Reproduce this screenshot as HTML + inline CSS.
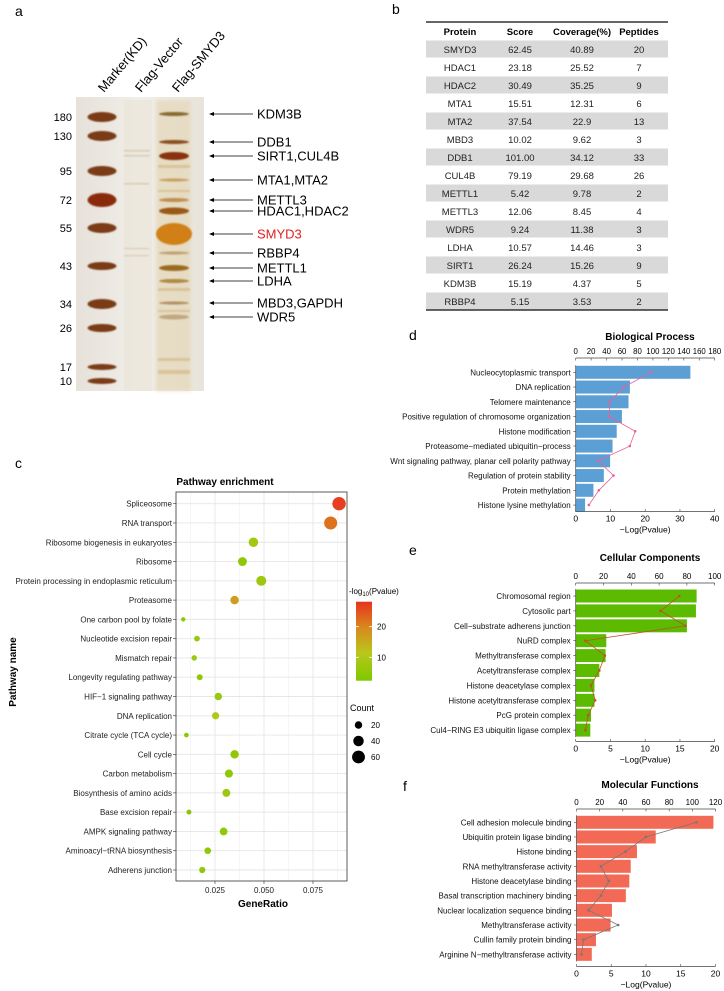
<!DOCTYPE html>
<html><head><meta charset="utf-8">
<style>
html,body{margin:0;padding:0;background:#fff;}
svg{display:block;font-family:"Liberation Sans",Arial,sans-serif;}
</style></head>
<body>
<svg id="fig" width="724" height="991" viewBox="0 0 724 991" xmlns="http://www.w3.org/2000/svg">
<defs>
<filter id="bl" x="-20%" y="-50%" width="140%" height="200%"><feGaussianBlur stdDeviation="1.6"/></filter>
<filter id="bl2" x="-20%" y="-50%" width="140%" height="200%"><feGaussianBlur stdDeviation="0.8"/></filter>
<linearGradient id="gelbg" x1="0" x2="1"><stop offset="0" stop-color="#e6e2da"/><stop offset="0.5" stop-color="#f1eee8"/><stop offset="1" stop-color="#e8e4dc"/></linearGradient>
<linearGradient id="cbar" x1="0" y1="1" x2="0" y2="0"><stop offset="0" stop-color="#7ec800"/><stop offset="0.35" stop-color="#b8c81c"/><stop offset="0.68" stop-color="#d9871e"/><stop offset="1" stop-color="#e8321e"/></linearGradient>
</defs>

<text x="15" y="16" font-size="14">a</text>
<text x="392" y="14" font-size="14">b</text>
<text x="15" y="468" font-size="14">c</text>
<text x="409" y="340" font-size="14">d</text>
<text x="409" y="555" font-size="14">e</text>
<text x="403" y="791" font-size="14">f</text>

<g id="gel">
<text transform="translate(104,93) rotate(-50)" font-size="13">Marker(KD)</text>
<text transform="translate(141,93) rotate(-50)" font-size="13">Flag-Vector</text>
<text transform="translate(178,93) rotate(-50)" font-size="13">Flag-SMYD3</text>
<rect x="76" y="97" width="128" height="294" fill="url(#gelbg)"/>
<rect x="156" y="100" width="35" height="291" fill="#e6d9bd" opacity="0.8" filter="url(#bl)"/>
<rect x="124" y="100" width="28" height="291" fill="#ebe6da" opacity="0.7"/>
<g fill="#c8b894" opacity="0.6" filter="url(#bl2)">
<rect x="124" y="150" width="26" height="1.5"/><rect x="124" y="155" width="26" height="1.5"/>
<rect x="124" y="183" width="25" height="1.5"/><rect x="124" y="248" width="25" height="1.2"/>
<rect x="124" y="255" width="25" height="1.2"/>
</g>
<g fill="#c9a868" opacity="0.45" filter="url(#bl2)">
<rect x="158" y="165" width="32" height="3"/><rect x="158" y="190" width="32" height="2"/>
<rect x="158" y="288" width="32" height="3"/><rect x="158" y="310" width="32" height="2"/>
<rect x="158" y="358" width="32" height="3"/><rect x="158" y="370" width="32" height="4"/>
</g>
</g>
<g id="gelLabels"></g>

<g id="table"></g>
<g id="pc"></g>
<g id="pd"></g>
<g id="pe"></g>
<g id="pf"></g>
</svg>

<script>
const markerKD = ["180","130","95","72","55","43","34","26","17","10"];
const markerY = [117,136,171,200,228,266,304,328,367,381];
const bandProteins = ["KDM3B","DDB1","SIRT1,CUL4B","MTA1,MTA2","METTL3","HDAC1,HDAC2","SMYD3","RBBP4","METTL1","LDHA","MBD3,GAPDH","WDR5"];
const bandY = [114,142,156,180,200,211,234,253,268,281,303,317];

const tblProtein = ["SMYD3","HDAC1","HDAC2","MTA1","MTA2","MBD3","DDB1","CUL4B","METTL1","METTL3","WDR5","LDHA","SIRT1","KDM3B","RBBP4"];
const tblScore = ["62.45","23.18","30.49","15.51","37.54","10.02","101.00","79.19","5.42","12.06","9.24","10.57","26.24","15.19","5.15"];
const tblCoverage = ["40.89","25.52","35.25","12.31","22.9","9.62","34.12","29.68","9.78","8.45","11.38","14.46","15.26","4.37","3.53"];
const tblPeptides = ["20","7","9","6","13","3","33","26","2","4","3","3","9","5","2"];

const pathways = ["Spliceosome","RNA transport","Ribosome biogenesis in eukaryotes","Ribosome","Protein processing in endoplasmic reticulum","Proteasome","One carbon pool by folate","Nucleotide excision repair","Mismatch repair","Longevity regulating pathway ","HIF\u22121 signaling pathway","DNA replication","Citrate cycle (TCA cycle)","Cell cycle","Carbon metabolism","Biosynthesis of amino acids","Base excision repair","AMPK signaling pathway","Aminoacyl\u2212tRNA biosynthesis","Adherens junction"];
const geneRatio = [0.0883,0.0840,0.0446,0.0390,0.0486,0.0350,0.0088,0.0158,0.0144,0.0172,0.0267,0.0253,0.0104,0.0350,0.0321,0.0308,0.0117,0.0294,0.0213,0.0185];
const pathCount = [65,62,33,29,36,26,7,12,11,13,20,19,8,26,24,23,9,22,16,14];
const pathLogP = [27,22,8,5,7,17,4,6,7,5,6,10,4,5,5,7,4,5,5,5];
const cXTicks = [0.025,0.050,0.075];
const cXTickLabels = ["0.025","0.050","0.075"];
const countLegend = [20,40,60];
const colorTicks = [10,20];

const bpTerms = ["Nucleocytoplasmic transport","DNA replication","Telomere maintenance","Positive regulation of chromosome organization","Histone modification","Proteasome\u2212mediated ubiquitin\u2212process","Wnt signaling pathway, planar cell polarity pathway","Regulation of protein stability","Protein methylation","Histone lysine methylation"];
const bpLogP = [33.0,15.6,15.2,13.3,11.8,10.6,9.9,8.1,5.1,2.7];
const bpCount = [98,62,44,43.5,77,70,29,49,30,17];
const bpBottomTicks = [0,10,20,30,40];
const bpTopTicks = [0,20,40,60,80,100,120,140,160,180];

const ccTerms = ["Chromosomal region","Cytosolic part","Cell\u2212substrate adherens junction","NuRD complex","Methyltransferase complex","Acetyltransferase complex","Histone deacetylase complex","Histone acetyltransferase complex","PcG protein complex","Cul4\u2212RING E3 ubiquitin ligase complex"];
const ccLogP = [17.4,17.3,16.0,4.4,4.3,3.4,2.7,2.7,2.2,2.1];
const ccCount = [74.5,61,79,7,21,17,11,14,9,7];
const ccBottomTicks = [0,5,10,15,20];
const ccTopTicks = [0,20,40,60,80,100];

const mfTerms = ["Cell adhesion molecule binding","Ubiquitin protein ligase binding","Histone binding","RNA methyltransferase activity","Histone deacetylase binding","Basal transcription machinery binding","Nuclear localization sequence binding","Methyltransferase activity","Cullin family protein binding","Arginine N\u2212methyltransferase activity"];
const mfLogP = [19.7,11.4,8.7,7.8,7.6,7.1,5.1,4.9,2.8,2.2];
const mfCount = [103.6,59.8,42.3,21,27.9,21,10.4,36,6,4.3];
const mfBottomTicks = [0,5,10,15,20];
const mfTopTicks = [0,20,40,60,80,100,120];

const NS="http://www.w3.org/2000/svg";
function mk(parent,tag,attrs,text){const e=document.createElementNS(NS,tag);for(const k in attrs)e.setAttribute(k,attrs[k]);if(text!==undefined)e.textContent=text;parent.appendChild(e);return e;}

(function(){
  const g=document.getElementById('gel');
  const L=document.getElementById('gelLabels');
  const mw=[5,5,5,7,5,4,5,4,3,3];
  markerY.forEach((y,i)=>{
    const b=mk(g,'ellipse',{cx:102,cy:y,rx:14.5,ry:mw[i],fill:i===3?'#8a2a10':'#7a3a14',filter:'url(#bl2)'});
    
    
    const t=mk(L,'text',{x:72,y:y+4,'font-size':11,'text-anchor':'end'},markerKD[i]);
    
    
  });
  const bandStyle={0:[2,'#8a6a30'],1:[2,'#8a5020'],2:[4,'#8a3010'],3:[1.5,'#c8a060'],4:[2,'#c09050'],5:[3.5,'#9a5a18'],6:[11,'#d08018'],7:[1.5,'#c0a070'],8:[3,'#9a6a20'],9:[2,'#b08a40'],10:[1.5,'#b09060'],11:[2.5,'#c0a880']};
  bandY.forEach((y,i)=>{
    const s=bandStyle[i];
    const b=mk(g,'ellipse',{cx:174,cy:y,rx:i===6?18:15,ry:s[0],fill:s[1],filter:'url(#bl2)'});
    
    
    const a=mk(L,'line',{x1:212,y1:y,x2:253,y2:y,stroke:'#000','stroke-width':0.8});
    
    
    const h=mk(L,'path',{d:`M209 ${y} L214 ${y-2} L214 ${y+2}Z`,fill:'#000'});
    
    
    const t=mk(L,'text',{x:257,y:y+4.5,'font-size':13,fill:i===6?'#e0201e':'#000'},bandProteins[i]);
    
    
  });
})();

(function(){
  const g=document.getElementById('table');
  const x0=426,x1=668,top=22,hdr=40,rh=18;
  const cx=[460,520,582,639];
  tblProtein.forEach((p,i)=>{
    const y=hdr+i*rh;
    if(i%2===0){const r=mk(g,'rect',{x:x0,y:y+0.5,width:x1-x0,height:rh-1,fill:'#d9d9d9'});
      
      }
    [p,tblScore[i],tblCoverage[i],tblPeptides[i]].forEach((v,j)=>{
      const t=mk(g,'text',{x:cx[j],y:y+13,'font-size':9.5,'text-anchor':'middle',fill:'#222'},v);
      
      
    });
  });
  ["Protein","Score","Coverage(%)","Peptides"].forEach((h,j)=>{
    const t=mk(g,'text',{x:cx[j],y:35,'font-size':9.5,'font-weight':'bold','text-anchor':'middle'},h);
    
    
  });
  mk(g,'line',{x1:x0,y1:top,x2:x1,y2:top,stroke:'#333','stroke-width':1.5});
  mk(g,'line',{x1:x0,y1:hdr+tblProtein.length*rh,x2:x1,y2:hdr+tblProtein.length*rh,stroke:'#333','stroke-width':1.5});
})();

(function(){
  const g=document.getElementById('pc');
  const L=176,R=347,T=492,B=881;
  const xs=v=>215+(v-0.025)*1960;
  const y0=503.7,step=(870-503.7)/19;
  const ys=i=>y0+i*step;
  const rs=c=>0.83*Math.sqrt(c);
  const stops=[[2.4,[126,200,0]],[11,[184,200,28]],[20,[217,135,30]],[28.2,[232,50,30]]];
  function col(v){v=Math.max(2.4,Math.min(28.2,v));for(let k=0;k<stops.length-1;k++){const a=stops[k],b=stops[k+1];if(v<=b[0]){const t=(v-a[0])/(b[0]-a[0]);return 'rgb('+a[1].map((c,m)=>Math.round(c+(b[1][m]-c)*t)).join(',')+')';}}return 'rgb(232,50,30)';}
  mk(g,'text',{x:225,y:485,'font-size':10,'font-weight':'bold','text-anchor':'middle'},'Pathway enrichment');
  [0.0125,0.0375,0.0625,0.0875].forEach(v=>mk(g,'line',{x1:xs(v),y1:T,x2:xs(v),y2:B,stroke:'#f0f0f0','stroke-width':0.6}));
  cXTicks.forEach(v=>mk(g,'line',{x1:xs(v),y1:T,x2:xs(v),y2:B,stroke:'#e6e6e6','stroke-width':0.9}));
  pathways.forEach((p,i)=>{
    mk(g,'line',{x1:L,y1:ys(i),x2:R,y2:ys(i),stroke:'#e6e6e6','stroke-width':0.9});
    const t=mk(g,'text',{x:172,y:ys(i)+3,'font-size':8,'text-anchor':'end',fill:'#222'},p);
    
    
    mk(g,'line',{x1:173,y1:ys(i),x2:L,y2:ys(i),stroke:'#333','stroke-width':0.6});
  });
  mk(g,'rect',{x:L,y:T,width:R-L,height:B-T,fill:'none',stroke:'#333','stroke-width':0.8});
  pathways.forEach((p,i)=>{
    const c=mk(g,'circle',{cx:xs(geneRatio[i]),cy:ys(i),r:rs(pathCount[i]),fill:col(pathLogP[i])});
    
    
  });
  cXTicks.forEach((v,i)=>{
    mk(g,'line',{x1:xs(v),y1:B,x2:xs(v),y2:B+3,stroke:'#333','stroke-width':0.6});
    const t=mk(g,'text',{x:xs(v),y:893,'font-size':8,'text-anchor':'middle',fill:'#222'},cXTickLabels[i]);
    
    
  });
  const xt=mk(g,'text',{x:263,y:907,'font-size':10,'font-weight':'bold','text-anchor':'middle'},'GeneRatio');
  
  
  const yt=mk(g,'text',{transform:'translate(16,672) rotate(-90)','font-size':10,'font-weight':'bold','text-anchor':'middle'},'Pathway name');
  
  
  const ct=mk(g,'text',{x:349,y:594,'font-size':8},'-log');
  mk(ct,'tspan',{'font-size':6,dy:2},'10');
  mk(ct,'tspan',{dy:-2},'(Pvalue)');
  
  
  const cb=mk(g,'rect',{x:356,y:601.7,width:16,height:79,fill:'url(#cbar)'});
  
  
  const cy=v=>657.3-(v-10)*3.06;
  colorTicks.forEach(v=>{
    mk(g,'line',{x1:356,y1:cy(v),x2:359,y2:cy(v),stroke:'#fff','stroke-width':0.8});
    mk(g,'line',{x1:369,y1:cy(v),x2:372,y2:cy(v),stroke:'#fff','stroke-width':0.8});
    mk(g,'text',{x:377,y:cy(v)+3,'font-size':8},String(v));
  });
  const lt=mk(g,'text',{x:350,y:711,'font-size':9},'Count');
  
  
  countLegend.forEach((c,i)=>{
    const y=725+i*16;
    const e=mk(g,'circle',{cx:358.5,cy:y,r:rs(c),fill:'#000'});
    
    
    mk(g,'text',{x:371,y:y+3,'font-size':8},String(c));
  });
})();

function barPanel(id,o){
  const g=document.getElementById(id);
  const xb=v=>o.x0+v*o.bpx, xt=v=>o.x0+v*o.tpx;
  const ys=i=>o.y0+i*o.step;
  const tt=mk(g,'text',{x:o.tx,y:o.titleY,'font-size':10,'font-weight':'bold','text-anchor':'middle'},o.title);
  
  
  mk(g,'line',{x1:o.x0,y1:o.topY,x2:o.x0+o.width,y2:o.topY,stroke:'#444','stroke-width':0.7});
  o.topTicks.forEach(v=>{
    mk(g,'line',{x1:xt(v),y1:o.topY,x2:xt(v),y2:o.topY+2.5,stroke:'#444','stroke-width':0.6});
    const t=mk(g,'text',{x:xt(v),y:o.topY-4,'font-size':o.tfs||8,'text-anchor':'middle'},String(v));
    
    
  });
  o.terms.forEach((term,i)=>{
    const r=mk(g,'rect',{x:o.x0,y:ys(i)-6.5,width:Math.max(0,xb(o.logp[i])-o.x0),height:13,fill:o.color});
    
    
    const t=mk(g,'text',{x:o.x0-5,y:ys(i)+3,'font-size':8,'text-anchor':'end',fill:'#111'},term);
    
    
    mk(g,'line',{x1:o.x0-2.5,y1:ys(i),x2:o.x0,y2:ys(i),stroke:'#444','stroke-width':0.6});
  });
  mk(g,'line',{x1:o.x0,y1:ys(0)-7,x2:o.x0,y2:ys(o.terms.length-1)+7,stroke:'#444','stroke-width':0.7});
  const pts=o.count.map((c,i)=>xt(c).toFixed(1)+','+ys(i).toFixed(1)).join(' ');
  const pl=mk(g,'polyline',{points:pts,fill:'none',stroke:o.lineColor,'stroke-width':0.8});
  
  
  o.count.forEach((c,i)=>{
    const p=mk(g,'circle',{cx:xt(c),cy:ys(i),r:1.3,fill:o.lineColor});
    
    
  });
  mk(g,'line',{x1:o.x0,y1:o.botY,x2:o.x0+o.width,y2:o.botY,stroke:'#444','stroke-width':0.7});
  o.botTicks.forEach(v=>{
    mk(g,'line',{x1:xb(v),y1:o.botY,x2:xb(v),y2:o.botY-2.5,stroke:'#444','stroke-width':0.6});
    const t=mk(g,'text',{x:xb(v),y:o.botY+10,'font-size':8.5,'text-anchor':'middle'},String(v));
    
    
  });
  const at=mk(g,'text',{x:o.x0+o.width/2,y:o.botY+21,'font-size':8.5,'text-anchor':'middle'},'\u2212Log(Pvalue)');
  
  
}
barPanel('pd',{title:'Biological Process',tx:650,titleY:340,topY:358,x0:575.7,width:139,bpx:139/40,tpx:139/180,
  y0:372.3,step:14.75,botY:511.5,terms:bpTerms,logp:bpLogP,count:bpCount,botTicks:bpBottomTicks,topTicks:bpTopTicks,
  color:'#5b9fd5',lineColor:'#e8609a',tfs:7.8});
barPanel('pe',{title:'Cellular Components',tx:650,titleY:561,topY:583,x0:575.7,width:139,bpx:139/20,tpx:139/100,
  y0:596,step:14.9,botY:741.5,terms:ccTerms,logp:ccLogP,count:ccCount,botTicks:ccBottomTicks,topTicks:ccTopTicks,
  color:'#5cbb00',lineColor:'#c0502a'});
barPanel('pf',{title:'Molecular Functions',tx:650,titleY:788,topY:809,x0:576.5,width:139,bpx:139/20,tpx:139/120,
  y0:822.3,step:14.67,botY:966.5,terms:mfTerms,logp:mfLogP,count:mfCount,botTicks:mfBottomTicks,topTicks:mfTopTicks,
  color:'#f26a55',lineColor:'#777777'});
</script>
</body></html>
